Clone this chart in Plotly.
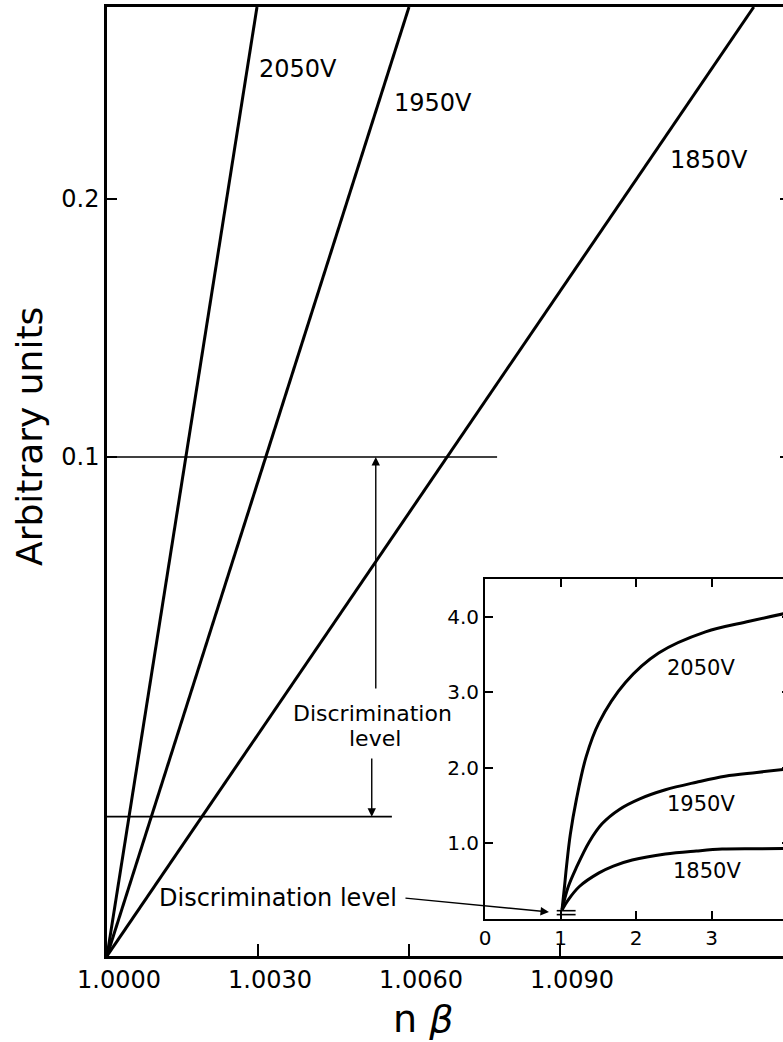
import plotly.graph_objects as go

# ---- main panel: output vs n*beta (straight-line response per tube voltage) ----
voltages = ["2050V", "1950V", "1850V"]
nbeta_start = 1.0000
signal_start = -0.0934
nbeta_top = [1.00298, 1.00600, 1.01285]   # where each line leaves the frame
signal_top = 0.2744

# discrimination levels (horizontal bars)
disc_upper_y = 0.100
disc_upper_xmax = 1.00775
disc_lower_y = -0.0394
disc_lower_xmax = 1.00566

main_xticks = [1.0000, 1.0030, 1.0060, 1.0090]
main_yticks = [0.1, 0.2]

# ---- inset: pulse height vs n*beta scaled ----
inset_x = {
    "2050V": [1.02, 1.05, 1.08, 1.13, 1.21, 1.34, 1.51, 1.86, 2.30, 2.92, 3.50, 4.05],
    "1950V": [1.02, 1.10, 1.21, 1.38, 1.55, 1.78, 2.05, 2.39, 2.80, 3.18, 3.60, 4.05],
    "1850V": [1.02, 1.10, 1.25, 1.51, 1.70, 1.95, 2.39, 2.80, 3.14, 3.60, 4.05],
}
inset_y = {
    "2050V": [0.12, 0.40, 0.70, 1.12, 1.58, 2.15, 2.60, 3.13, 3.52, 3.80, 3.94, 4.06],
    "1950V": [0.12, 0.42, 0.68, 1.02, 1.26, 1.45, 1.59, 1.71, 1.81, 1.89, 1.94, 1.99],
    "1850V": [0.12, 0.25, 0.43, 0.61, 0.70, 0.78, 0.86, 0.90, 0.925, 0.93, 0.935],
}
inset_disc_x = [0.95, 1.20]
inset_disc_y = [0.11, 0.058]
inset_xticks = [0, 1, 2, 3, 4]
inset_yticks = [1.0, 2.0, 3.0, 4.0]

FONT = "DejaVu Sans"
INK = "black"

fig = go.Figure()

for i, v in enumerate(voltages):
    fig.add_trace(go.Scatter(
        x=[nbeta_start, nbeta_top[i]], y=[signal_start, signal_top],
        mode="lines", line=dict(color=INK, width=3), showlegend=False,
        xaxis="x", yaxis="y"))

fig.add_trace(go.Scatter(
    x=[nbeta_start, disc_upper_xmax], y=[disc_upper_y, disc_upper_y],
    mode="lines", line=dict(color=INK, width=1.6), showlegend=False))
fig.add_trace(go.Scatter(
    x=[nbeta_start, disc_lower_xmax], y=[disc_lower_y, disc_lower_y],
    mode="lines", line=dict(color=INK, width=1.6), showlegend=False))

for v in voltages:
    fig.add_trace(go.Scatter(
        x=inset_x[v], y=inset_y[v], mode="lines",
        line=dict(color=INK, width=3, shape="spline", smoothing=1.0),
        showlegend=False, xaxis="x2", yaxis="y2"))

for yv in inset_disc_y:
    fig.add_trace(go.Scatter(
        x=inset_disc_x, y=[yv, yv], mode="lines",
        line=dict(color=INK, width=1.6), showlegend=False,
        xaxis="x2", yaxis="y2"))

annotations = []
# main line labels
for txt, x, y in [("2050V", 1.00298, 0.2504), ("1950V", 1.00566, 0.2372), ("1850V", 1.01115, 0.2151)]:
    annotations.append(dict(text=txt, x=x, y=y, xref="x", yref="y", xanchor="left",
                            yanchor="middle", showarrow=False,
                            font=dict(family=FONT, size=24, color=INK)))
# inset line labels
for txt, x, y in [("2050V", 2.39, 3.32), ("1950V", 2.39, 1.52), ("1850V", 2.47, 0.64)]:
    annotations.append(dict(text=txt, x=x, y=y, xref="x2", yref="y2", xanchor="left",
                            yanchor="middle", showarrow=False,
                            font=dict(family=FONT, size=21, color=INK)))

# double-headed arrow between discrimination levels
arrow_x = 1.00534
annotations.append(dict(x=arrow_x, y=disc_upper_y, ax=arrow_x, ay=0.0097, xref="x", yref="y",
                        axref="x", ayref="y", text="", showarrow=True, arrowhead=2,
                        arrowsize=1.2, arrowwidth=1.4, arrowcolor=INK))
annotations.append(dict(x=arrow_x - 0.00008, y=disc_lower_y, ax=arrow_x - 0.00008, ay=-0.0163,
                        xref="x", yref="y", axref="x", ayref="y", text="", showarrow=True,
                        arrowhead=2, arrowsize=1.2, arrowwidth=1.4, arrowcolor=INK))
annotations.append(dict(text="Discrimination", x=1.00528, y=0.0005, xref="x", yref="y",
                        xanchor="center", yanchor="middle",
                        showarrow=False, font=dict(family=FONT, size=22, color=INK)))
annotations.append(dict(text="level", x=1.00532, y=-0.0090, xref="x", yref="y",
                        xanchor="center", yanchor="middle",
                        showarrow=False, font=dict(family=FONT, size=22, color=INK)))

# pointer to the inset discrimination level
annotations.append(dict(text="Discrimination level", x=1.0058, y=-0.0709, xref="x", yref="y",
                        xanchor="right", yanchor="middle", showarrow=False,
                        font=dict(family=FONT, size=24, color=INK)))
annotations.append(dict(x=1.00878, y=-0.07636, ax=1.00590, ay=-0.0709, xref="x", yref="y",
                        axref="x", ayref="y", text="", showarrow=True, arrowhead=2,
                        arrowsize=1.2, arrowwidth=1.4, arrowcolor=INK))

W, H = 790, 1042
ML, MR, MT, MB = 107, 0, 7, 86
PW, PH = W - ML - MR, H - MT - MB

# axis titles, positioned in pixels and converted to paper units
for txt, px, py, ang, size in [("Arbitrary units", 29, 437, -90, 36), ("n <i>β</i>", 423, 1019, 0, 38)]:
    annotations.append(dict(text=txt, x=(px - ML) / PW, y=(H - MB - py) / PH,
                            xref="paper", yref="paper", xanchor="center", yanchor="middle",
                            showarrow=False, textangle=ang,
                            font=dict(family=FONT, size=size, color=INK)))

px_per_unit_x = 151 / 0.003
main_xrange = [1.0, 1.0 + PW / px_per_unit_x]

inset_left = (485 - ML) / PW
inset_bottom = (H - MB - 919) / PH
inset_top = (H - MB - 579) / PH
inset_xmax = (W - 485) / 75.5

fig.update_layout(
    width=W, height=H,
    margin=dict(l=ML, r=MR, t=MT, b=MB, autoexpand=False),
    paper_bgcolor="white", plot_bgcolor="white",
    showlegend=False,
    annotations=annotations,
    font=dict(family=FONT, color=INK),
    xaxis=dict(domain=[0, 1], range=main_xrange, tickvals=main_xticks, tickformat=".4f",
               ticks="inside", ticklen=12, tickwidth=2, tickcolor=INK,
               showline=True, linecolor=INK, linewidth=2.5, mirror=True,
               showgrid=False, zeroline=False, ticklabelshift=12,
               tickfont=dict(family=FONT, size=24, color=INK), automargin=False),
    yaxis=dict(domain=[0, 1], range=[signal_start, signal_top], tickvals=main_yticks,
               tickformat=".1f", ticks="inside", ticklen=10, tickwidth=2, tickcolor=INK,
               showline=True, linecolor=INK, linewidth=2.5, mirror="ticks",
               showgrid=False, zeroline=False,
               tickfont=dict(family=FONT, size=24, color=INK), automargin=False),
    xaxis2=dict(domain=[inset_left, 1], range=[0, inset_xmax], anchor="y2",
                tickvals=inset_xticks, ticks="inside", ticklen=8, tickwidth=1.6,
                tickcolor=INK, showline=True, linecolor=INK, linewidth=2,
                mirror="ticks", showgrid=False, zeroline=False,
                tickfont=dict(family=FONT, size=20, color=INK), automargin=False),
    yaxis2=dict(domain=[inset_bottom, inset_top], range=[0, 4.5], anchor="x2",
                tickvals=inset_yticks, tickformat=".1f", ticks="inside", ticklen=8,
                tickwidth=1.6, tickcolor=INK, showline=True, linecolor=INK, linewidth=2,
                mirror="ticks", showgrid=False, zeroline=False,
                tickfont=dict(family=FONT, size=20, color=INK), automargin=False),
)

fig.write_html(
    "out.html",
    post_script=("document.documentElement.style.overflow='hidden';"
                 "document.body.style.overflow='hidden';"
                 "document.body.style.margin='0';"),
)
